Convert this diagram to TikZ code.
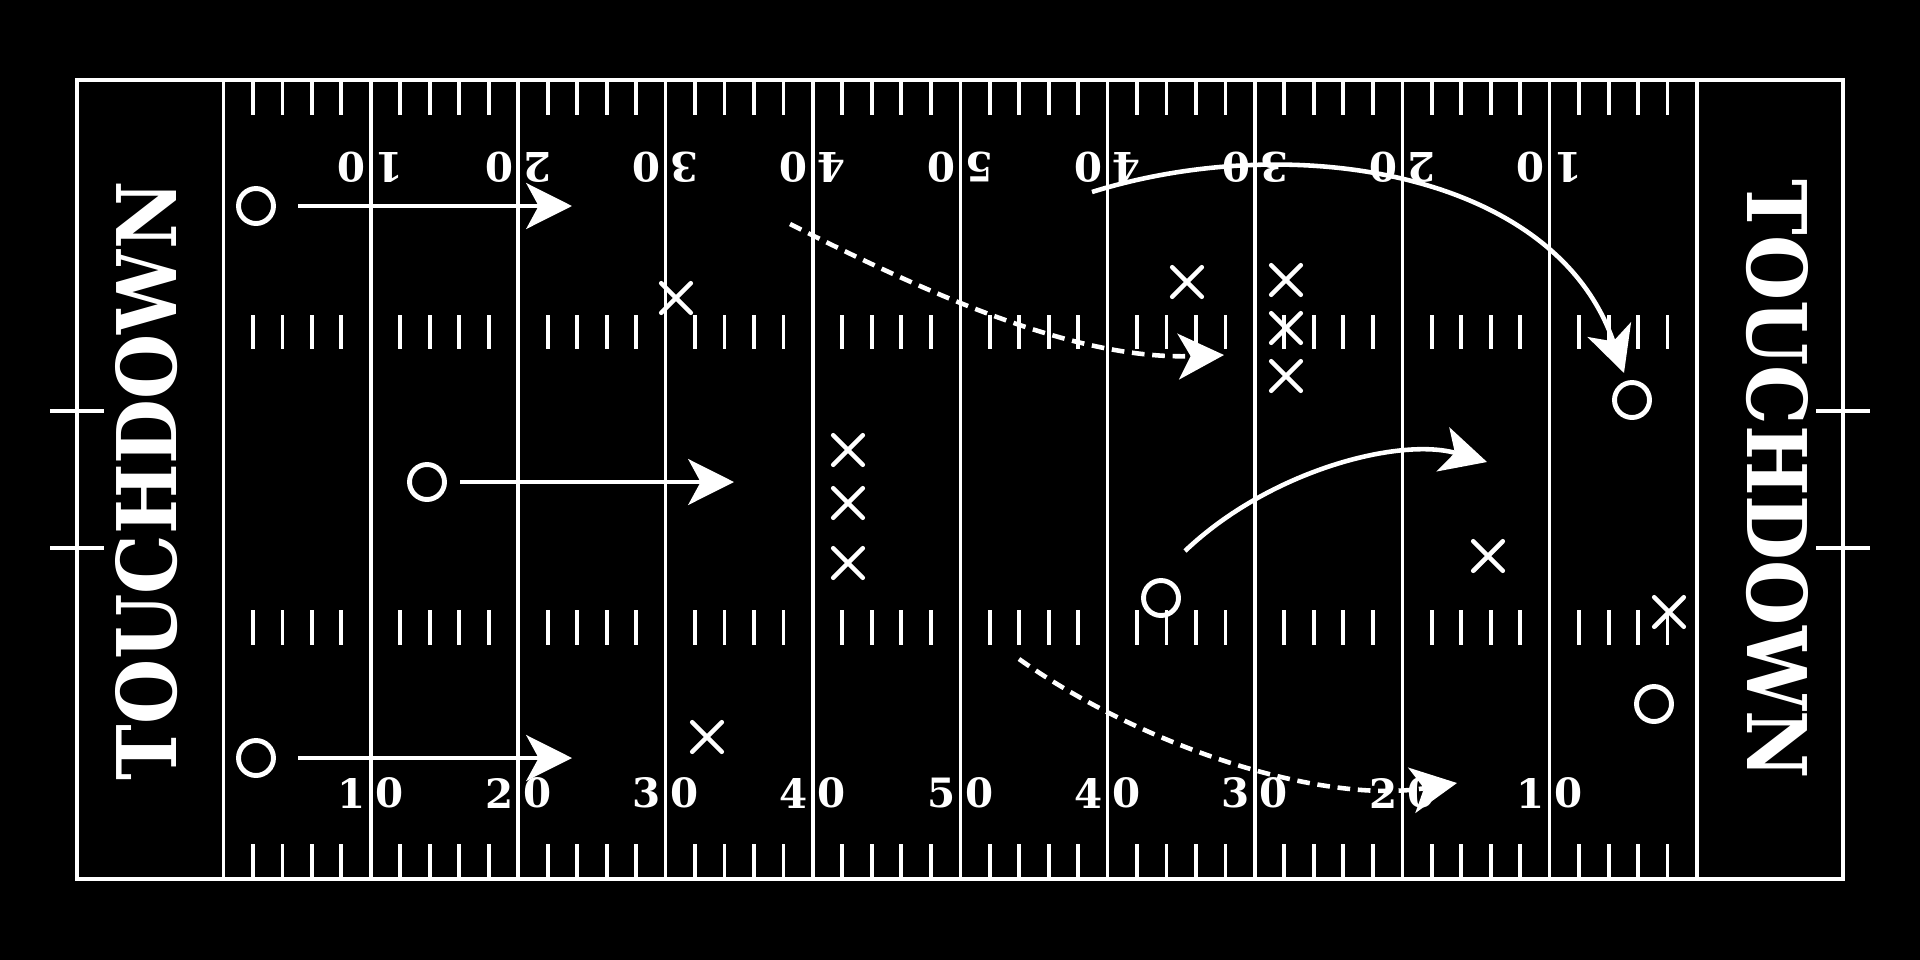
\documentclass[tikz,border=0pt]{standalone}
\usepackage{fontspec}
\setmainfont{DejaVu Serif}
\usepackage{tikz}
\usetikzlibrary{arrows.meta, shapes.misc, positioning}

\begin{document}
\begin{tikzpicture}[x=0.1mm, y=-0.1mm,
    fieldline/.style={white, line width=1pt},
    hashmark/.style={white, line width=1.1pt},
    off/.style={circle, draw=white, line width=1.4pt, minimum size=3.5mm, inner sep=0pt},
    def/.style={cross out, draw=white, line width=1.3pt, minimum size=2.5mm, inner sep=0pt, line cap=round},
    route/.style={white, line width=1.3pt, -{Stealth[length=13pt, width=13pt, inset=3.5pt]}},
    fake/.style={route, dash pattern=on 3.6pt off 2.2pt},
    ynum/.style={text=white, font=\bfseries\fontsize{11.5}{12}\selectfont, inner sep=0pt},
    endzone/.style={text=white, font=\bfseries\fontsize{23.4}{28}\selectfont, inner sep=0pt}]

    \fill[black] (0,0) rectangle (1920,960);
    \useasboundingbox (0,0) rectangle (1920,960);

    % field outline, goal lines and yard lines
    \draw[fieldline] (77,80) rectangle (1843,879);
    \foreach \i in {0,...,10}
        \draw[fieldline] ({223.5+147.35*\i},80) -- ({223.5+147.35*\i},879);

    % hash marks every two yards
    \foreach \s in {0,...,9}
        \foreach \t in {2,4,6,8} {
            \pgfmathsetmacro{\hx}{223.5+147.35*\s+14.735*\t}
            \foreach \ya/\yb in {80/115, 315/349, 610/645, 844/879}
                \draw[hashmark] (\hx,\ya) -- (\hx,\yb);
        }

    % goal posts
    \foreach \gy in {411,548} {
        \draw[fieldline] (50,\gy) -- (104,\gy);
        \draw[fieldline] (1816,\gy) -- (1870,\gy);
    }

    % yard numbers
    \foreach \i/\d in {1/1,2/2,3/3,4/4,5/5,6/4,7/3,8/2,9/1} {
        \pgfmathsetmacro{\lx}{223.5+147.35*\i}
        \node[ynum] (bn\i) at ({\lx-19},793) {\d};
        \node[ynum] (bz\i) at ({\lx+19},793) {0};
        \node[ynum, rotate=180] (tn\i) at ({\lx+19},167) {\d};
        \node[ynum, rotate=180] (tz\i) at ({\lx-19},167) {0};
    }

    % end zones
    \node[endzone, rotate=90] (tdl) at (147,481) {\scalebox{0.91}[1]{TOUCHDOWN}};
    \node[endzone, rotate=-90] (tdr) at (1777,479) {\scalebox{0.91}[1]{TOUCHDOWN}};

    % offense
    \node[off] (o1) at (256,206) {};
    \node[off] (o2) at (427,482) {};
    \node[off] (o3) at (256,758) {};
    \node[off] (o4) at (1161,598) {};
    \node[off] (o5) at (1632,400) {};
    \node[off] (o6) at (1654,704) {};

    % defense
    \node[def] (x1) at (676,298) {};
    \node[def] (x2) at (848,450) {};
    \node[def] (x3) at (848,503) {};
    \node[def] (x4) at (848,563) {};
    \node[def] (x5) at (1187,282) {};
    \node[def] (x6) at (1286,280) {};
    \node[def] (x7) at (1286,328) {};
    \node[def] (x8) at (1286,376) {};
    \node[def] (x9) at (1488,556) {};
    \node[def] (x10) at (1669,612) {};
    \node[def] (x11) at (707,737) {};

    % routes
    \coordinate (r1s) at (298,206);
    \coordinate (r1e) at (572,206);
    \coordinate (r2s) at (460,482);
    \coordinate (r2e) at (734,482);
    \coordinate (r3s) at (298,758);
    \coordinate (r3e) at (572,758);
    \coordinate (r4s) at (790,224);
    \coordinate (r4e) at (1224,355);
    \coordinate (r5s) at (1092,192);
    \coordinate (r5e) at (1624,373);
    \coordinate (r6s) at (1185,551);
    \coordinate (r6e) at (1487,462);
    \coordinate (r7s) at (1019,659);
    \coordinate (r7e) at (1457,783);

    \draw[route] (r1s) -- (r1e);
    \draw[route] (r2s) -- (r2e);
    \draw[route] (r3s) -- (r3e);
    \draw[fake] (r4s) .. controls (940,300) and (1080,360) .. (r4e);
    \draw[route] (r5s) .. controls (1290,130) and (1555,170) .. (r5e);
    \draw[route] (r6s) .. controls (1270,470) and (1400,437) .. (r6e);
    \draw[fake] (r7s) .. controls (1140,745) and (1320,805) .. (r7e);
\end{tikzpicture}
\end{document}
